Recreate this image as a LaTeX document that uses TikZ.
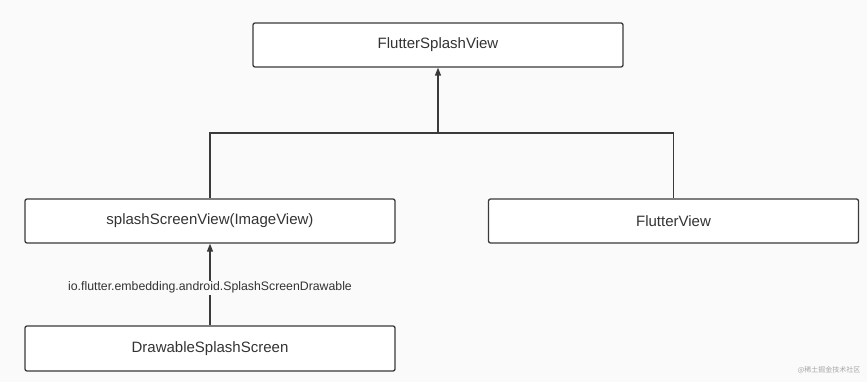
\documentclass[tikz,border=0pt]{standalone}
\usepackage{fontspec}
\setmainfont{Liberation Sans}
\newfontfamily\cjk{Noto Sans CJK SC}
\usetikzlibrary{arrows.meta,calc}
\definecolor{bgc}{HTML}{FAFAFA}
\definecolor{linec}{HTML}{3A3A3A}
\definecolor{txtc}{HTML}{333333}
\tikzset{
  box/.style={draw=linec, line width=1.3pt, fill=white, rounded corners=2pt,
    minimum width=370pt, minimum height=44pt, inner sep=0pt,
    font=\fontsize{15}{18}\selectfont, text=txtc},
  conn/.style={draw=linec, line width=1.3pt},
  arr/.style={conn, -{Triangle[length=8pt,width=6pt]}},
  lbl/.style={fill=bgc, inner sep=1.5pt, font=\fontsize{12.3}{14}\selectfont, text=txtc}
}
\begin{document}
\begin{tikzpicture}[x=1pt,y=-1pt]
\fill[bgc] (0,0) rectangle (867,382);
\useasboundingbox (0,0) rectangle (867,382);
\node[box] (top) at (438,45) {FlutterSplashView};
\node[box] (splash) at (210,221) {splashScreenView(ImageView)};
\node[box] (fv) at (673.5,221) {FlutterView};
\node[box, minimum height=45pt] (draw) at (210,348.5) {DrawableSplashScreen};
\coordinate (junc) at (438,133);
\draw[conn] (splash.north) |- (junc) -| (fv.north);
\draw[arr] (junc) -- (top.south);
\draw[arr] (draw.north) -- node[lbl, pos=0.46] (lab) {io.flutter.embedding.android.SplashScreenDrawable} (splash.south);
\node[font=\cjk\fontsize{7}{8}\selectfont, text=gray!70, anchor=east] (wm) at (864,370) {@稀土掘金技术社区};
\end{tikzpicture}
\end{document}
